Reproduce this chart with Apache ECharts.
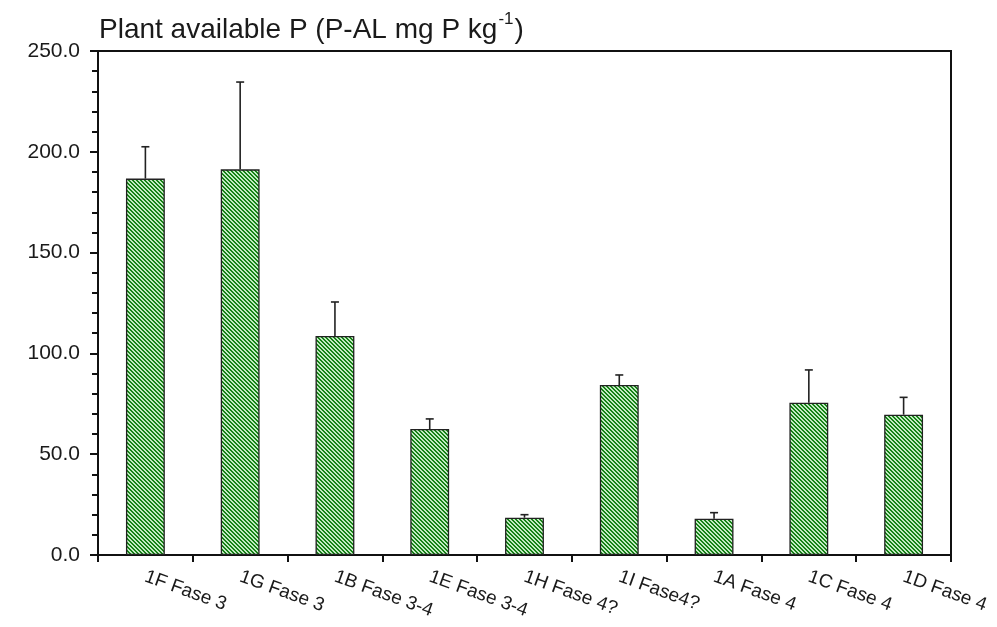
<!DOCTYPE html>
<html>
<head>
<meta charset="utf-8">
<script src="https://cdn.jsdelivr.net/npm/echarts@6/dist/echarts.min.js"></script>
<style>
  html, body { margin: 0; padding: 0; background: #fff; }
  #chart { width: 997px; height: 627px; }
</style>
</head>
<body>
<div id="chart"></div>
<script>
// Sample sites and their phase
const categories = ['1F Fase 3', '1G Fase 3', '1B Fase 3-4', '1E Fase 3-4', '1H Fase 4?', '1I Fase4?', '1A Fase 4', '1C Fase 4', '1D Fase 4'];
// Mean P-AL (mg P per kg)
const means = [186.7, 191.3, 108.6, 62.5, 18.5, 84.3, 18.0, 75.5, 69.6];
// Upper error (standard deviation)
const errors = [15.8, 43.3, 16.9, 5.0, 1.5, 5.0, 3.0, 16.3, 8.6];
// Y-axis ticks
const yMin = 0, yMax = 250, yStep = 50;

// Diagonal hatch used to fill the bars
function hatch() {
  const c = document.createElement('canvas');
  c.width = 4; c.height = 4;
  const ctx = c.getContext('2d');
  const img = ctx.createImageData(4, 4);
  for (let y = 0; y < 4; y++) {
    for (let x = 0; x < 4; x++) {
      const i = (y * 4 + x) * 4;
      const on = ((x - y) % 4 + 4) % 4 < 2;
      const col = on ? [22, 130, 22] : [195, 234, 195];
      img.data[i] = col[0]; img.data[i + 1] = col[1]; img.data[i + 2] = col[2]; img.data[i + 3] = 255;
    }
  }
  ctx.putImageData(img, 0, 0);
  return c;
}

const chart = echarts.init(document.getElementById('chart'), null, { renderer: 'canvas' });
const font = 'Liberation Sans, Arial, sans-serif';

chart.setOption({
  animation: false,
  title: {
    text: '{a|Plant available P (P-AL mg P kg}{s|-1}{a|)}',
    left: 94,
    top: 6,
    textStyle: {
      rich: {
        a: { fontFamily: font, fontSize: 28, fontWeight: 'normal', color: '#1a1a1a', verticalAlign: 'bottom', lineHeight: 33 },
        s: { fontFamily: font, fontSize: 17, fontWeight: 'normal', color: '#1a1a1a', verticalAlign: 'top', lineHeight: 33, padding: [0, 1, 14, 1] }
      }
    }
  },
  grid: {
    left: 98, right: 46, top: 51, bottom: 72,
    show: true, borderColor: '#111', borderWidth: 2, backgroundColor: 'transparent'
  },
  xAxis: {
    type: 'category',
    data: categories,
    axisLine: { lineStyle: { color: '#111', width: 2 } },
    axisTick: { show: true, length: 7, lineStyle: { color: '#111', width: 2 } },
    axisLabel: {
      rotate: -20, margin: 21, interval: 0,
      fontFamily: font, fontSize: 19, color: '#1a1a1a'
    }
  },
  yAxis: {
    type: 'value',
    min: yMin, max: yMax, interval: yStep,
    axisLine: { show: true, lineStyle: { color: '#111', width: 2 } },
    axisTick: { show: true, inside: false, length: 8, lineStyle: { color: '#111', width: 2 } },
    minorTick: { show: true, splitNumber: 5, length: 6, lineStyle: { color: '#111', width: 2 } },
    splitLine: { show: false },
    axisLabel: {
      margin: 18, fontFamily: font, fontSize: 21, color: '#1a1a1a',
      formatter: v => v.toFixed(1)
    }
  },
  series: [
    {
      type: 'bar',
      data: means,
      barWidth: '41%',
      itemStyle: {
        color: { image: hatch(), repeat: 'repeat' },
        borderColor: '#222', borderWidth: 1.3
      },
      z: 2
    },
    {
      type: 'custom',
      data: means.map((m, i) => [i, m, m + errors[i]]),
      z: 3,
      renderItem: function (params, api) {
        const i = api.value(0);
        const p0 = api.coord([i, api.value(1)]);
        const p1 = api.coord([i, api.value(2)]);
        const cap = 4;
        const style = { stroke: '#222', lineWidth: 1.6 };
        return {
          type: 'group',
          children: [
            { type: 'line', shape: { x1: p0[0], y1: p0[1], x2: p1[0], y2: p1[1] }, style: style },
            { type: 'line', shape: { x1: p1[0] - cap, y1: p1[1], x2: p1[0] + cap, y2: p1[1] }, style: style }
          ]
        };
      }
    }
  ]
});
</script>
</body>
</html>
